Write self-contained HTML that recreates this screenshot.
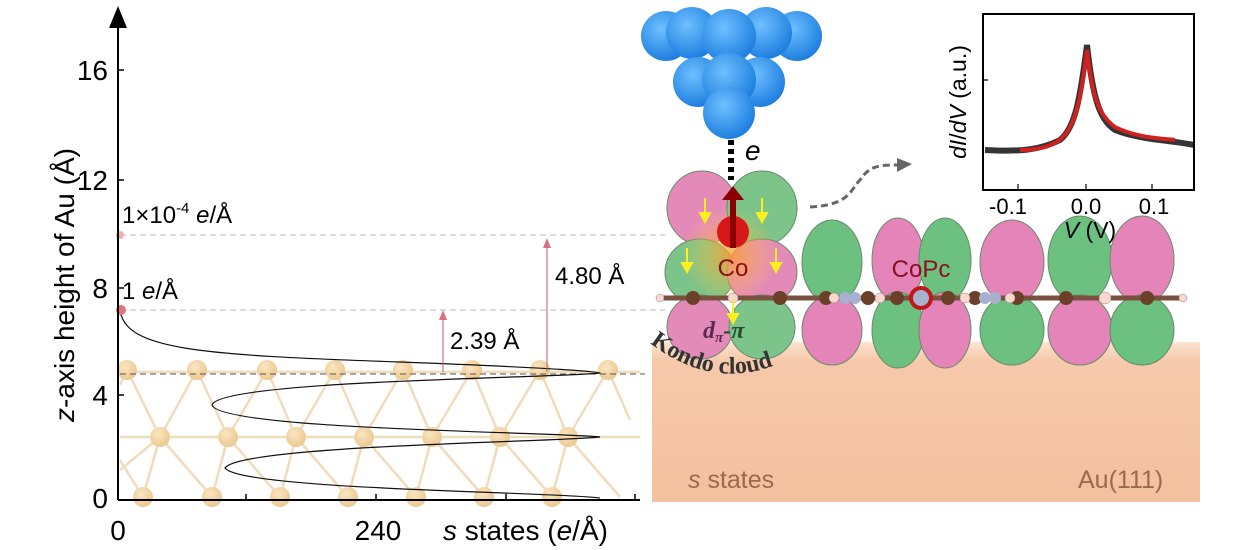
<!DOCTYPE html>
<html><head><meta charset="utf-8"><style>
body{margin:0;background:#fff;}
svg{display:block;font-family:"Liberation Sans",sans-serif;}
</style></head><body>
<svg width="1233" height="550" viewBox="0 0 1233 550" xmlns="http://www.w3.org/2000/svg">
<defs>
<radialGradient id="bl" cx="40%" cy="35%" r="65%"><stop offset="0" stop-color="#6ec0ff"/><stop offset="1" stop-color="#1f7fe0"/></radialGradient>
<radialGradient id="au" cx="40%" cy="35%" r="65%"><stop offset="0" stop-color="#fbe6c2"/><stop offset="1" stop-color="#ecc890"/></radialGradient>
<linearGradient id="pe" x1="0" y1="0" x2="0" y2="1"><stop offset="0" stop-color="#fde3d0"/><stop offset="0.12" stop-color="#f6c9aa"/><stop offset="1" stop-color="#f4c09f"/></linearGradient>
<radialGradient id="glow" cx="50%" cy="50%" r="50%"><stop offset="0" stop-color="#ff9a30" stop-opacity="0.8"/><stop offset="1" stop-color="#ffd040" stop-opacity="0"/></radialGradient>
<path id="kc" d="M650 343 Q735 408 825 335"/>
</defs>

<g stroke="#efdcbc" stroke-width="2.5" fill="none">
<path d="M120 372H640M120 437H640"/>
<path d="M127 370L160 437L143 497 M197 370L160 437 M197 370L228 437L212 497 M267 370L228 437 M267 370L296 437L280 497 M335 370L296 437 M335 370L364 437L348 497 M403 370L364 437 M403 370L432 437L416 497 M472 370L432 437 M472 370L500 437L484 497 M540 370L500 437 M540 370L568 437L552 497 M608 370L568 437 M608 370L630 420"/>
<path d="M127 370L120 385 M160 437L212 497 M228 437L280 497 M296 437L348 497 M364 437L416 497 M432 437L484 497 M500 437L552 497 M568 437L620 497 M160 437L120 470 M143 497L120 460"/>
</g>
<g fill="url(#au)">
<circle cx="127" cy="370" r="10"/><circle cx="197" cy="370" r="10"/><circle cx="267" cy="370" r="10"/><circle cx="335" cy="370" r="10"/><circle cx="403" cy="370" r="10"/><circle cx="472" cy="370" r="10"/><circle cx="540" cy="370" r="10"/><circle cx="608" cy="370" r="10"/>
<circle cx="160" cy="437" r="10"/><circle cx="228" cy="437" r="10"/><circle cx="296" cy="437" r="10"/><circle cx="364" cy="437" r="10"/><circle cx="432" cy="437" r="10"/><circle cx="500" cy="437" r="10"/><circle cx="568" cy="437" r="10"/>
<circle cx="143" cy="497" r="10"/><circle cx="212" cy="497" r="10"/><circle cx="280" cy="497" r="10"/><circle cx="348" cy="497" r="10"/><circle cx="416" cy="497" r="10"/><circle cx="484" cy="497" r="10"/><circle cx="552" cy="497" r="10"/>
</g>

<g stroke="#bbb" stroke-width="1" stroke-dasharray="6,4">
<path d="M120 235H665M120 310H665"/>
</g>
<path d="M120 374H645" stroke="#555" stroke-width="1" stroke-dasharray="6,4"/>

<path d="M120 310C125 350 200 355 400 362C560 368 600 372 600 373C560 378 220 380 212 405C220 430 560 432 600 437C560 442 240 445 225 468C240 490 560 492 600 498" fill="none" stroke="#111" stroke-width="1.2"/>
<circle cx="120" cy="235" r="4" fill="#f0b0b0"/>
<circle cx="121" cy="310" r="5" fill="#e57080"/>

<g stroke="#b06060" stroke-width="1"><path d="M443 372V318M547 372V246"/></g>
<g fill="#d87080"><path d="M439 320L443 310L447 320Z"/><path d="M543 248L547 238L551 248Z"/></g>
<text x="450" y="349" font-size="24">2.39 Å</text>
<text x="555" y="284" font-size="24">4.80 Å</text>
<text x="122" y="299" font-size="24">1 <tspan font-style="italic">e</tspan>/Å</text>
<text x="122" y="223" font-size="24">1×10<tspan font-size="15" dy="-10">-4</tspan><tspan dy="10"> </tspan><tspan font-style="italic">e</tspan>/Å</text>

<path d="M118 500V22M118 500H640" stroke="#000" stroke-width="2"/>
<path d="M109 28L118 6L127 28Z" fill="#000"/>
<g stroke="#000" stroke-width="1.5"><path d="M118 70H124M118 180H124M118 288H124M118 395H124M246 500V494M376 500V494M506 500V494M635 500V494"/></g>
<g font-size="28" text-anchor="end"><text x="108" y="80">16</text><text x="108" y="190">12</text><text x="108" y="298">8</text><text x="108" y="405">4</text><text x="108" y="508">0</text></g>
<text x="118" y="540" font-size="28" text-anchor="middle">0</text>
<text x="378" y="540" font-size="28" text-anchor="middle">240</text>
<text x="443" y="540" font-size="28"><tspan font-style="italic">s</tspan> states (<tspan font-style="italic">e</tspan>/Å)</text>
<text transform="translate(74,285) rotate(-90)" font-size="28" text-anchor="middle"><tspan font-style="italic">z</tspan>-axis height of Au  (Å)</text>

<rect x="652" y="342" width="548" height="160" fill="url(#pe)"/>
<text x="688" y="488" font-size="25" fill="#9a6a50"><tspan font-style="italic">s</tspan> states</text>
<text x="1078" y="488" font-size="25" fill="#9a6a50">Au(111)</text>

<g fill="url(#bl)">
<circle cx="666" cy="36" r="25"/><circle cx="797" cy="36" r="25"/><circle cx="692" cy="33" r="26"/><circle cx="766" cy="33" r="26"/><circle cx="729" cy="36" r="27"/>
<circle cx="698" cy="82" r="25"/><circle cx="760" cy="82" r="25"/><circle cx="729" cy="80" r="27"/>
<circle cx="729" cy="113" r="26"/>
</g>
<path d="M731 140V180" stroke="#000" stroke-width="6" stroke-dasharray="5,4"/>
<text x="745" y="160" font-size="28" font-style="italic">e</text>

<g stroke="#6a8a6a" stroke-width="1">
<ellipse cx="702" cy="208" rx="35" ry="37" fill="#e48ab8"/>
<ellipse cx="762" cy="208" rx="35" ry="37" fill="#7cc48a"/>
<ellipse cx="700" cy="272" rx="35" ry="33" fill="#7cc48a"/>
<ellipse cx="762" cy="272" rx="35" ry="33" fill="#e48ab8"/>
<ellipse cx="700" cy="327" rx="33" ry="32" fill="#e48ab8"/>
<ellipse cx="762" cy="327" rx="33" ry="32" fill="#7cc48a"/>
<ellipse cx="832" cy="262" rx="30" ry="42" fill="#6cc080"/>
<ellipse cx="832" cy="330" rx="30" ry="35" fill="#e484b8"/>
<ellipse cx="898" cy="260" rx="26" ry="42" fill="#e484b8"/>
<ellipse cx="898" cy="330" rx="26" ry="38" fill="#6cc080"/>
<ellipse cx="945" cy="260" rx="26" ry="42" fill="#6cc080"/>
<ellipse cx="945" cy="330" rx="26" ry="38" fill="#e484b8"/>
<ellipse cx="1012" cy="262" rx="32" ry="42" fill="#e484b8"/>
<ellipse cx="1012" cy="330" rx="32" ry="35" fill="#6cc080"/>
<ellipse cx="1080" cy="260" rx="32" ry="44" fill="#6cc080"/>
<ellipse cx="1080" cy="330" rx="32" ry="35" fill="#e484b8"/>
<ellipse cx="1142" cy="260" rx="32" ry="44" fill="#e484b8"/>
<ellipse cx="1142" cy="330" rx="32" ry="35" fill="#6cc080"/>
</g>
<circle cx="730" cy="255" r="48" fill="url(#glow)"/>
<path d="M658 298H1185" stroke="#7a5040" stroke-width="5"/>
<g fill="#6a4028"><circle cx="693" cy="298" r="7"/><circle cx="780" cy="298" r="7"/><circle cx="826" cy="298" r="7"/><circle cx="868" cy="298" r="7"/><circle cx="897" cy="298" r="7"/><circle cx="948" cy="298" r="7"/><circle cx="975" cy="298" r="7"/><circle cx="1017" cy="298" r="7"/><circle cx="1066" cy="298" r="7"/><circle cx="1147" cy="298" r="7"/></g>
<g fill="#f8d8d0" stroke="#a08080" stroke-width="0.5"><circle cx="660" cy="298" r="4"/><circle cx="733" cy="298" r="5"/><circle cx="834" cy="298" r="5"/><circle cx="880" cy="298" r="5"/><circle cx="965" cy="298" r="5"/><circle cx="1010" cy="298" r="5"/><circle cx="1105" cy="298" r="6"/><circle cx="1183" cy="298" r="4"/></g>
<g fill="#a8b0d0"><circle cx="845" cy="298" r="6"/><circle cx="855" cy="298" r="6"/><circle cx="985" cy="298" r="6"/><circle cx="995" cy="298" r="6"/></g>
<circle cx="921" cy="298" r="10" fill="#a8b0d0" stroke="#c01818" stroke-width="4"/>
<text x="921" y="277" font-size="24" fill="#8a1020" text-anchor="middle">CoPc</text>

<circle cx="733" cy="232" r="16" fill="#d81818"/>
<path d="M733 248V195" stroke="#8a0000" stroke-width="6"/>
<path d="M722 200L733 186L744 200Z" fill="#8a0000"/>
<text x="733" y="276" font-size="24" fill="#8a1010" text-anchor="middle">Co</text>
<g stroke="#ffee20" stroke-width="2" fill="#ffee20">
<path d="M705 198V215M762 198V215M687 248V265M776 248V265M733 300V316"/>
<path d="M700 213L705 222L710 213ZM757 213L762 222L767 213ZM682 263L687 272L692 263ZM771 263L776 272L781 263ZM728 314L733 323L738 314Z"/>
</g>
<text x="703" y="338" font-size="24" font-weight="bold" font-style="italic" font-family="Liberation Serif,serif"><tspan fill="#5a2a50">d</tspan><tspan fill="#5a2a50" font-size="15" dy="4">π</tspan><tspan dy="-4" fill="#2a4a30">-π</tspan></text>
<text font-size="24" font-weight="bold" fill="#333" font-family="Liberation Serif,serif"><textPath href="#kc">Kondo cloud</textPath></text>

<path d="M810 207C850 205 850 190 860 180C870 165 880 165 900 165" fill="none" stroke="#666" stroke-width="3" stroke-dasharray="7,4"/>
<path d="M897 158L912 164L897 172Z" fill="#666"/>

<rect x="983" y="14" width="211" height="176" fill="#fff" stroke="#000" stroke-width="2"/>
<g stroke="#000" stroke-width="1.2"><path d="M1018 190V184M1086 190V184M1152 190V184M983 80H988"/></g>
<path d="M985 150C1020 152 1040 150 1060 140C1075 128 1080 100 1087 45C1093 100 1100 120 1115 130C1140 140 1170 140 1194 145" fill="none" stroke="#111" stroke-width="6" opacity="0.85"/>
<path d="M1020 150C1040 150 1055 146 1065 135C1078 118 1082 90 1087 50C1092 95 1098 115 1115 127C1135 137 1155 138 1175 140" fill="none" stroke="#d02020" stroke-width="4"/>
<g font-size="22" text-anchor="middle"><text x="1008" y="214">-0.1</text><text x="1086" y="214">0.0</text><text x="1154" y="214">0.1</text></g>
<text x="1090" y="238" font-size="23" text-anchor="middle"><tspan font-style="italic">V</tspan> (V)</text>
<text transform="translate(966,102) rotate(-90)" font-size="23" text-anchor="middle"><tspan font-style="italic">dI</tspan>/<tspan font-style="italic">dV</tspan> (a.u.)</text>
</svg>
</body></html>
